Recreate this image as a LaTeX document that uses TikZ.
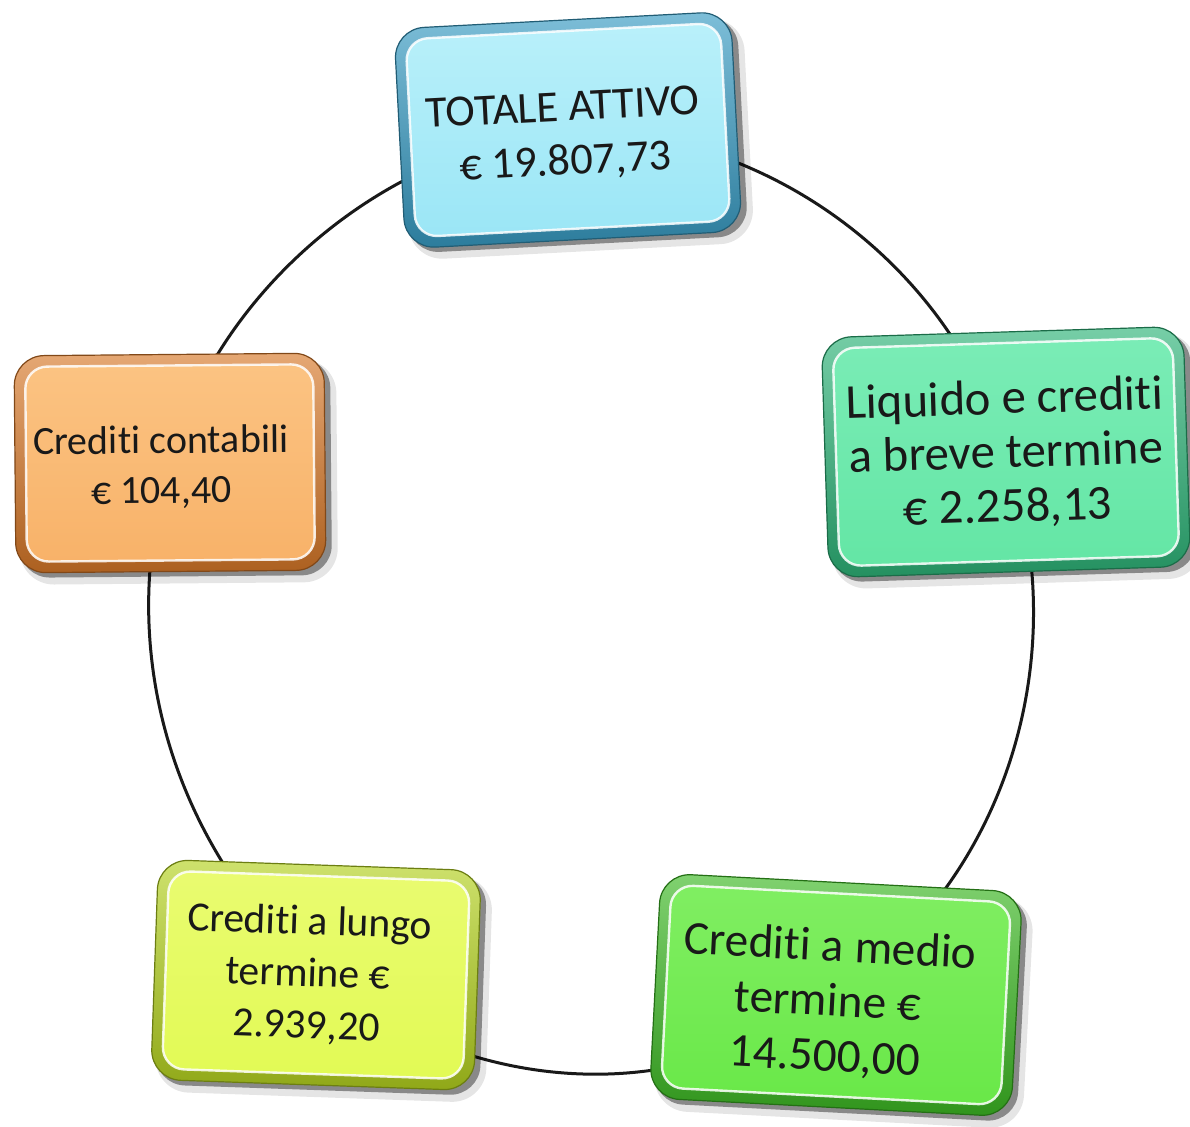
\documentclass[tikz,border=0pt]{standalone}
\usepackage{fontspec}
\setmainfont{Carlito}[Ligatures=NoCommon]
\usetikzlibrary{backgrounds}
\definecolor{totEdge}{RGB}{55,155,195}
\definecolor{totFill}{RGB}{155,230,246}
\definecolor{totLight}{RGB}{185,240,250}
\definecolor{conEdge}{RGB}{215,120,40}
\definecolor{conFill}{RGB}{248,178,105}
\definecolor{conLight}{RGB}{251,195,130}
\definecolor{liqEdge}{RGB}{45,180,120}
\definecolor{liqFill}{RGB}{100,230,165}
\definecolor{liqLight}{RGB}{122,236,182}
\definecolor{lunEdge}{RGB}{180,210,30}
\definecolor{lunFill}{RGB}{226,250,85}
\definecolor{lunLight}{RGB}{233,251,112}
\definecolor{medEdge}{RGB}{60,185,35}
\definecolor{medFill}{RGB}{105,232,72}
\definecolor{medLight}{RGB}{128,238,98}
\tikzset{
  boxtext/.style={transform shape, align=center, text=black!90, inner sep=0pt, font=\bfont},
  boxnode/.style={transform shape, inner sep=0pt, outer sep=0pt},
  ring/.style={draw=black!90, line width=1.5pt}
}
\def\bfont{\fontsize{21}{26}\selectfont}
\def\toff{(0,0)}
% #1 name, #2 centre, #3 angle, #4 width, #5 height, #6 edge, #7 fill, #8 light, #9 text
\newcommand\diagbox[9]{%
  \begin{scope}[shift={#2}, rotate=#3]
    \fill[black, opacity=0.10, rounded corners=17pt] (-#4/2+4,-#5/2-12) rectangle (#4/2+12,#5/2-6);
    \fill[black, opacity=0.40, rounded corners=15pt] (-#4/2+4,-#5/2-5) rectangle (#4/2+6,#5/2-5);
    \shadedraw[rounded corners=15pt, top color=#6!65!white, bottom color=#6!80!black, draw=#6!60!black, line width=0.6pt] (-#4/2,-#5/2) rectangle (#4/2,#5/2);
    \shadedraw[rounded corners=11pt, top color=#8, bottom color=#7, draw=white, draw opacity=0.85, line width=1.2pt] (-#4/2+11,-#5/2+11) rectangle (#4/2-11,#5/2-11);
    \node[boxnode, minimum width=#4*0.5pt, minimum height=#5*0.5pt] (#1) at (0,0) {};
    \node[boxtext] (#1t) at \toff {#9};
  \end{scope}}
\begin{document}
\begin{tikzpicture}[x=0.5pt, y=0.5pt]
\useasboundingbox (0,0) rectangle (1190,1126);

\def\bfont{\fontsize{22.2}{27}\selectfont}\def\toff{(-4,-6)}
\diagbox{tot}{(568,996)}{3}{337}{220}{totEdge}{totFill}{totLight}{TOTALE ATTIVO\\€ 19.807,73}

\def\bfont{\fontsize{20}{25}\selectfont}\def\toff{(-9,-4)}
\diagbox{con}{(170,663)}{0.5}{310}{217}{conEdge}{conFill}{conLight}{Crediti contabili\\€ 104,40}

\def\bfont{\fontsize{24.4}{27}\selectfont}\def\toff{(0,-2)}
\diagbox{liq}{(1006,674)}{1.8}{362}{240}{liqEdge}{liqFill}{liqLight}{Liquido e crediti\\a breve termine\\€ 2.258,13}

\def\bfont{\fontsize{20.8}{26}\selectfont}\def\toff{(-8,0)}
\diagbox{lun}{(316,151)}{-2}{323}{220}{lunEdge}{lunFill}{lunLight}{Crediti a lungo\\termine €\\2.939,20}

\def\bfont{\fontsize{23.6}{27.5}\selectfont}\def\toff{(-8,-8)}
\diagbox{med}{(836,131)}{-3}{362}{225}{medEdge}{medFill}{medLight}{Crediti a medio\\termine €\\14.500,00}

\begin{scope}[on background layer]
  \fill[white] (0,0) rectangle (1190,1126);
  \draw[ring] (tot.center) .. controls +(-184,-18) and +(47,172) .. (con.center);
  \draw[ring] (con.center) .. controls +(-56,-184) and +(-146,134) .. (lun.center);
  \draw[ring] (lun.center) .. controls +(152,-117) and +(-164,-119) .. (med.center);
  \draw[ring] (med.center) .. controls +(174,118) and +(70,-197) .. (liq.center);
  \draw[ring] (liq.center) .. controls +(-57,189) and +(198,1) .. (tot.center);
\end{scope}
\end{tikzpicture}
\end{document}
